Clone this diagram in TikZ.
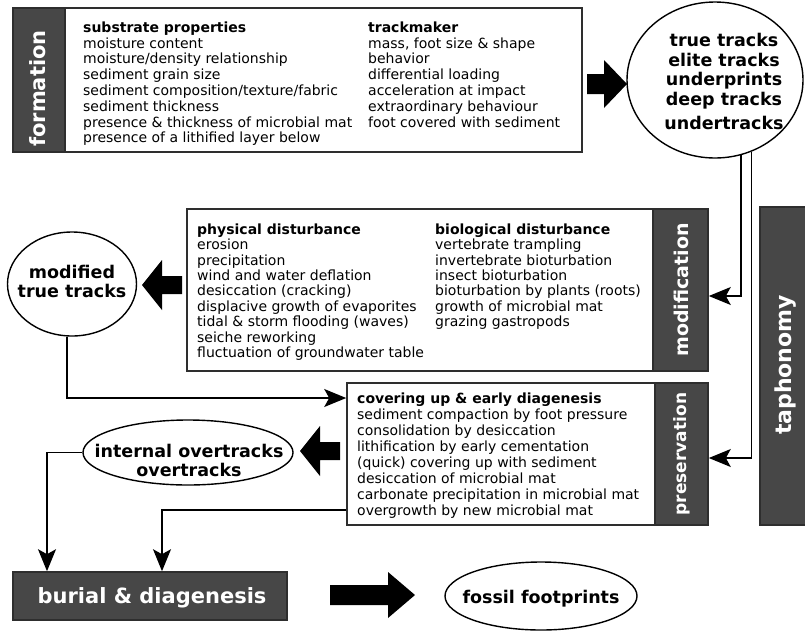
\documentclass[tikz,border=0pt]{standalone}
\usepackage{fontspec}
\setmainfont{DejaVu Sans}
\usetikzlibrary{arrows.meta,shapes.geometric,calc}
\definecolor{dk}{HTML}{474747}
\definecolor{bd}{HTML}{2E2E2E}
\begin{document}
\begin{tikzpicture}[x=1pt,y=-1pt,
  frame/.style={draw=bd, line width=1.6pt, fill=white, inner sep=0},
  strip/.style={draw=bd, line width=1.6pt, fill=dk, inner sep=0},
  striptext/.style={text=white, rotate=90, anchor=base, inner sep=0},
  body/.style={align=left, anchor=north west, inner sep=0, font=\fontsize{14pt}{15.8pt}\selectfont},
  oval/.style={ellipse, draw=black, line width=1.4pt, inner sep=0},
  ovaltext/.style={align=center, font=\bfseries\fontsize{17.5pt}{19.5pt}\selectfont, inner sep=0},
  conn/.style={draw=black, line width=1.3pt, -{Stealth[length=22pt,width=18pt,inset=5pt]}},
  fat/.style={fill=black}]
\useasboundingbox (0,0) rectangle (805,630);

% formation
\node[frame, minimum width=569, minimum height=144] (form) at (297.5,80) {};
\node[strip, minimum width=52, minimum height=144] (formS) at (39,80) {};
\node[striptext, font=\bfseries\fontsize{21pt}{21pt}\selectfont] (formT) at (45,88.5) {formation};
\node[body] (formA) at (83,21.4) {\textbf{substrate properties}\\moisture content\\moisture/density relationship\\sediment grain size\\sediment composition/texture/fabric\\sediment thickness\\presence \& thickness of microbial mat\\presence of a lithified layer below};
\node[body] (formB) at (368,21.4) {\textbf{trackmaker}\\mass, foot size \& shape\\behavior\\differential loading\\acceleration at impact\\extraordinary behaviour\\foot covered with sediment};

% modification
\node[frame, minimum width=521, minimum height=162] (mod) at (447.5,290) {};
\node[strip, minimum width=55, minimum height=162] (modS) at (680.5,290) {};
\node[striptext, font=\bfseries\fontsize{19pt}{19pt}\selectfont] (modT) at (688,290) {modification};
\node[body, font=\fontsize{14pt}{15.4pt}\selectfont] (modA) at (197,223.4) {\textbf{physical disturbance}\\erosion\\precipitation\\wind and water deflation\\desiccation (cracking)\\displacive growth of evaporites\\tidal \& storm flooding (waves)\\seiche reworking\\fluctuation of groundwater table};
\node[body, font=\fontsize{14pt}{15.4pt}\selectfont] (modB) at (435,223.4) {\textbf{biological disturbance}\\vertebrate trampling\\invertebrate bioturbation\\insect bioturbation\\bioturbation by plants (roots)\\growth of microbial mat\\grazing gastropods};

% preservation
\node[frame, minimum width=361, minimum height=142] (pres) at (527.5,454) {};
\node[strip, minimum width=53, minimum height=142] (presS) at (681.5,454) {};
\node[striptext, font=\bfseries\fontsize{17pt}{17pt}\selectfont] (presT) at (686,454) {preservation};
\node[body, font=\fontsize{14pt}{16pt}\selectfont] (presA) at (357,392.4) {\textbf{covering up \& early diagenesis}\\sediment compaction by foot pressure\\consolidation by desiccation\\lithification by early cementation\\(quick) covering up with sediment\\desiccation of microbial mat\\carbonate precipitation in microbial mat\\overgrowth by new microbial mat};

% taphonomy
\node[strip, minimum width=48, minimum height=318] (taph) at (784,366) {};
\node[striptext, font=\bfseries\fontsize{22pt}{22pt}\selectfont] (taphT) at (791,365) {taphonomy};

% burial
\node[strip, minimum width=274, minimum height=48] (bur) at (150,596) {};
\node[text=white, font=\bfseries\fontsize{21pt}{21pt}\selectfont, anchor=base, inner sep=0] (burT) at (152,603) {burial \& diagenesis};

% ellipses
\node[oval, minimum width=176, minimum height=156] (tt) at (715,80) {};
\node[ovaltext, anchor=north] (ttT) at (724,33) {true tracks\\elite tracks\\underprints\\deep tracks\\[4.5pt]undertracks};
\node[oval, minimum width=129, minimum height=104] (mtt) at (72,284) {};
\node[ovaltext, anchor=north] (mttT) at (72,264.7) {modified\\true tracks};
\node[oval, minimum width=210, minimum height=65] (iot) at (188,452.5) {};
\node[ovaltext, anchor=north] (iotT) at (189,443.7) {internal overtracks\\overtracks};
\node[oval, minimum width=192, minimum height=68] (ff) at (541,596) {};
\node[ovaltext, anchor=base] (ffT) at (541,603) {fossil footprints};

% connectors
\draw[conn] (tt.-71.5) |- ([yshift=-6pt]mod.east);
\draw[conn] (tt.-63.2) |- ([yshift=-4pt]pres.east);
\draw[conn] ([xshift=-5pt]mtt.south) |- ([yshift=56pt]pres.west);
\draw[conn] (iot.west) -| ([xshift=-103pt]bur.north);
\draw[conn] ([yshift=-56pt]pres.west) -| ([xshift=12pt]bur.north);

% fat arrows
\fill[fat] (587,74) -- (604,74) -- (604,60) -- (627,84) -- (604,108) -- (604,94) -- (587,94) -- cycle;
\fill[fat] (182,276) -- (162,276) -- (162,260) -- (142,285) -- (162,310) -- (162,294) -- (182,294) -- cycle;
\fill[fat] (340,442) -- (320,442) -- (320,426) -- (300,451) -- (320,476) -- (320,460) -- (340,460) -- cycle;
\fill[fat] (330,585) -- (388,585) -- (388,572) -- (415,595) -- (388,618) -- (388,605) -- (330,605) -- cycle;
\end{tikzpicture}
\end{document}
